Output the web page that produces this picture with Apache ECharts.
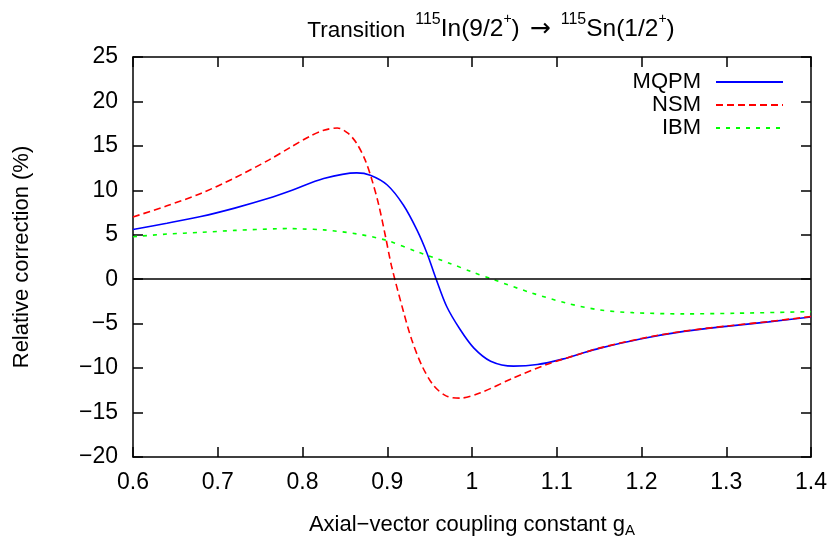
<!DOCTYPE html>
<html>
<head>
<meta charset="utf-8">
<script src="https://cdn.jsdelivr.net/npm/echarts@6/dist/echarts.min.js"></script>
<style>html,body{margin:0;padding:0;background:#fff;}#chart{width:832px;height:541px;}</style>
</head>
<body>
<div id="chart"></div>
<script>
// ---- data ----
var xTicks = [0.6, 0.7, 0.8, 0.9, 1.0, 1.1, 1.2, 1.3, 1.4];
var yTicks = [-20, -15, -10, -5, 0, 5, 10, 15, 20, 25];
var seriesNames = ['MQPM', 'NSM', 'IBM'];

var mqpmX = [0.6,0.64,0.68,0.72,0.76,0.786,0.825,0.864,0.880,0.900,0.919,0.935,0.947,0.957,0.970,0.986,1.002,1.022,1.049,1.077,1.108,1.128,1.15,1.20,1.25,1.30,1.35,1.40];
var mqpmY = [5.6,6.3,7.05,8.0,9.1,9.95,11.33,11.96,11.7,10.6,8.35,5.55,2.9,0.2,-3.04,-5.66,-7.72,-9.22,-9.78,-9.6,-8.96,-8.38,-7.78,-6.7,-5.87,-5.3,-4.8,-4.25];

var nsmX = [0.6,0.64,0.68,0.72,0.76,0.786,0.809,0.825,0.841,0.854,0.864,0.874,0.882,0.890,0.898,0.905,0.919,0.929,0.941,0.955,0.970,0.986,1.010,1.049,1.088,1.128,1.15,1.20,1.25,1.30,1.35,1.40];
var nsmY = [7.0,8.26,9.65,11.4,13.4,14.85,16.1,16.76,17.02,16.4,15.27,13.4,11.15,8.34,4.78,1.5,-3.6,-6.85,-9.75,-12.0,-13.15,-13.38,-12.78,-11.1,-9.6,-8.38,-7.75,-6.66,-5.84,-5.27,-4.76,-4.2];

var ibmX = [0.6,0.64,0.68,0.72,0.77,0.786,0.80,0.825,0.864,0.900,0.935,0.974,1.0,1.024,1.069,1.112,1.151,1.19,1.25,1.31,1.40];
var ibmY = [4.78,5.08,5.27,5.49,5.68,5.7,5.65,5.55,5.1,4.35,3.1,1.78,0.82,0,-1.5,-2.7,-3.46,-3.76,-3.9,-3.83,-3.65];

function pairs(xs, ys) { return xs.map(function (x, i) { return [x, ys[i]]; }); }

var FONT = "'Liberation Sans', Arial, sans-serif";
var FS = 22;
var chart = echarts.init(document.getElementById('chart'), null, {renderer: 'canvas'});

var xMin = xTicks[0], xMax = xTicks[xTicks.length - 1];
var yMin = yTicks[0], yMax = yTicks[yTicks.length - 1];

function axisCommon() {
  return {
    axisLine: {show: true, onZero: false, lineStyle: {color: '#000', width: 1.5}},
    axisTick: {show: true, inside: true, length: 10, lineStyle: {color: '#000', width: 1.5}},
    splitLine: {show: false}
  };
}

var xa0 = Object.assign(axisCommon(), {
  type: 'value', position: 'bottom', min: xMin, max: xMax, interval: 0.1,
  name: 'Axial\u2212vector coupling constant g{sub|A}',
  nameLocation: 'middle', nameGap: 54, nameMoveOverlap: false,
  nameTextStyle: {fontFamily: FONT, fontSize: FS, color: '#000',
    rich: {sub: {fontFamily: FONT, fontSize: 15, color: '#000', verticalAlign: 'bottom', padding: [12, 0, 0, 0]}}},
  axisLabel: {fontFamily: FONT, fontSize: 23, color: '#000', margin: 14,
    formatter: function (v) { return String(+v.toFixed(1)); }}
});
var xa1 = Object.assign(axisCommon(), {
  type: 'value', position: 'top', min: xMin, max: xMax, interval: 0.1,
  axisLabel: {show: false}
});
var ya0 = Object.assign(axisCommon(), {
  type: 'value', position: 'left', min: yMin, max: yMax, interval: 5,
  name: 'Relative correction (%)', nameLocation: 'middle', nameGap: 100, nameRotate: 90,
  nameMoveOverlap: false,
  nameTextStyle: {fontFamily: FONT, fontSize: FS, color: '#000'},
  axisLabel: {fontFamily: FONT, fontSize: 23, color: '#000', margin: 15,
    formatter: function (v) { return String(v).replace('-', '\u2212'); }}
});
var ya1 = Object.assign(axisCommon(), {
  type: 'value', position: 'right', min: yMin, max: yMax, interval: 5,
  axisLabel: {show: false}
});

var option = {
  backgroundColor: '#fff',
  animation: false,
  title: {
    text: '{t|Transition}{g| }{s|115}{n|In(9/2}{p|+}{n|)}{g| }{a|\u2192}{g| }{s|115}{n|Sn(1/2}{p|+}{n|)}',
    left: 486, textAlign: 'center', top: 7,
    textStyle: {
      fontFamily: FONT, fontSize: FS, color: '#000', fontWeight: 'normal',
      rich: {
        t: {fontFamily: FONT, fontSize: 22.5, color: '#000', lineHeight: 30, verticalAlign: 'bottom'},
        n: {fontFamily: FONT, fontSize: 24.5, color: '#000', lineHeight: 30, verticalAlign: 'bottom'},
        g: {fontFamily: FONT, fontSize: 22, color: '#000', lineHeight: 30, verticalAlign: 'bottom', width: 10},
        a: {fontFamily: "'DejaVu Sans'", fontSize: 25, color: '#000', lineHeight: 30, verticalAlign: 'bottom'},
        s: {fontFamily: FONT, fontSize: 16, color: '#000', verticalAlign: 'top'},
        p: {fontFamily: FONT, fontSize: 14, color: '#000', verticalAlign: 'top'}
      }
    }
  },
  grid: {left: 133, right: 21, top: 57, bottom: 84, containLabel: false, outerBoundsMode: 'none'},
  legend: {
    orient: 'vertical', right: 43, top: 66, align: 'right',
    itemWidth: 67, itemHeight: 12, itemGap: 1,
    itemStyle: {opacity: 0},
    textStyle: {fontFamily: FONT, fontSize: FS, color: '#000', lineHeight: 22, padding: [0, 10, 0, 0]},
    data: seriesNames
  },
  xAxis: [xa0, xa1],
  yAxis: [ya0, ya1],
  series: [
    {
      name: seriesNames[0], type: 'line', data: pairs(mqpmX, mqpmY), symbol: 'none', showSymbol: false,
      smooth: 0.3,
      lineStyle: {color: '#0000ff', width: 1.6, type: 'solid'}, itemStyle: {color: '#0000ff'}, z: 3,
      markLine: {
        silent: true, symbol: 'none', label: {show: false},
        lineStyle: {color: '#000', width: 1.5, type: 'solid'},
        data: [{yAxis: 0}]
      }
    },
    {
      name: seriesNames[1], type: 'line', data: pairs(nsmX, nsmY), symbol: 'none', showSymbol: false,
      smooth: 0.3,
      lineStyle: {color: '#ff0000', width: 1.6, type: [7, 4]}, itemStyle: {color: '#ff0000'}, z: 4
    },
    {
      name: seriesNames[2], type: 'line', data: pairs(ibmX, ibmY), symbol: 'none', showSymbol: false,
      smooth: 0.3,
      lineStyle: {color: '#00ff00', width: 1.6, type: [4, 6]}, itemStyle: {color: '#00ff00'}, z: 2
    }
  ]
};
chart.setOption(option);
</script>
</body>
</html>
